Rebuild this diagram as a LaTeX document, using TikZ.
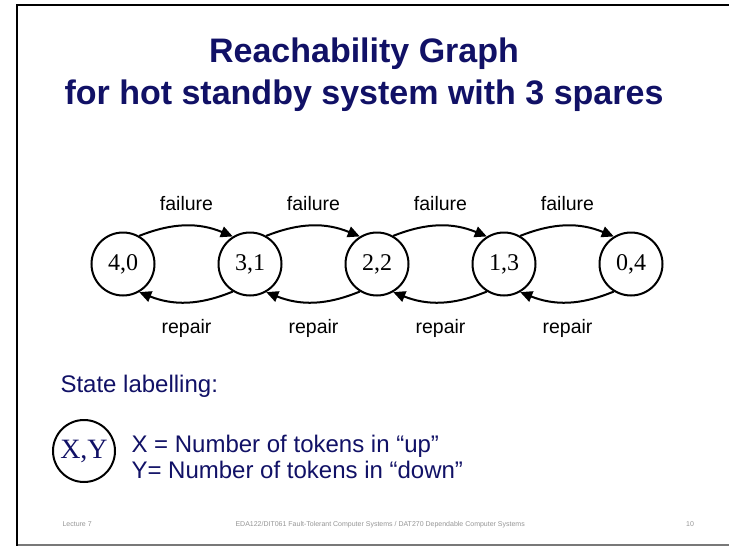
\documentclass[tikz,border=0pt]{standalone}
\usepackage{fontspec}
\setmainfont{Liberation Sans}
\newfontfamily\serifnum{Liberation Serif}
\usetikzlibrary{arrows.meta}
\definecolor{navy}{RGB}{17,17,102}
\definecolor{footgray}{RGB}{150,150,150}
\definecolor{rulegray}{RGB}{120,120,120}
\begin{document}
\begin{tikzpicture}[x=1pt,y=-1pt,
  state/.style={circle,draw,line width=2pt,minimum size=63pt,inner sep=0pt,
    font=\serifnum\fontsize{24}{24}\selectfont},
  trans/.style={-{Triangle[length=12pt,width=11pt]},line width=2pt},
  lab/.style={font=\fontsize{19.5}{20}\selectfont},
  titletext/.style={anchor=base,text=navy,font=\bfseries\fontsize{34}{42}\selectfont},
  bodytext/.style={anchor=base west,text=navy,font=\fontsize{24}{26}\selectfont},
  foot/.style={anchor=base,text=footgray,font=\fontsize{7}{8}\selectfont}]
\useasboundingbox (0,0) rectangle (729,546);
\fill[white] (0,0) rectangle (729,546);
% frame
\draw[rulegray,line width=2pt] (17,544.5) -- (729,544.5);
\draw[line width=2.5pt] (17,546) -- (17,5) -- (729,5);
% title
\node[titletext] (t1) at (364,62) {Reachability Graph};
\node[titletext] (t2) at (364,104) {for hot standby system with 3 spares};
% states
\node[state] (s40) at (123,264) {4,0};
\node[state] (s31) at (250,264) {3,1};
\node[state] (s22) at (377,264) {2,2};
\node[state] (s13) at (504,264) {1,3};
\node[state] (s04) at (631,264) {0,4};
% transitions
\foreach \a/\b in {s40/s31,s31/s22,s22/s13,s13/s04}{
  \draw[trans] (\a.60) to[bend left=22] (\b.122);
  \draw[trans] (\b.238) to[bend left=22] (\a.300);
}
\node[lab] (f1) at (186.5,204) {failure};
\node[lab] (f2) at (313.5,204) {failure};
\node[lab] (f3) at (440.5,204) {failure};
\node[lab] (f4) at (567.5,204) {failure};
\node[lab] (r1) at (186.5,328) {repair};
\node[lab] (r2) at (313.5,328) {repair};
\node[lab] (r3) at (440.5,328) {repair};
\node[lab] (r4) at (567.5,328) {repair};
% state labelling
\node[bodytext] (sl) at (57,392) {State labelling:};
\node[state,minimum size=62pt,text=navy,font=\serifnum\fontsize{28}{28}\selectfont] (xy) at (84,451) {X,Y};
\node[bodytext] (lx) at (128,452) {X = Number of tokens in “up”};
\node[bodytext] (ly) at (128,478) {Y= Number of tokens in “down”};
% footer
\node[foot,anchor=base west] (fl) at (59,526.5) {Lecture 7};
\node[foot,anchor=base west] (fc) at (232,526.5) {EDA122/DIT061 Fault-Tolerant Computer Systems / DAT270 Dependable Computer Systems};
\node[foot] (fn) at (690,526.5) {10};
\end{tikzpicture}
\end{document}
